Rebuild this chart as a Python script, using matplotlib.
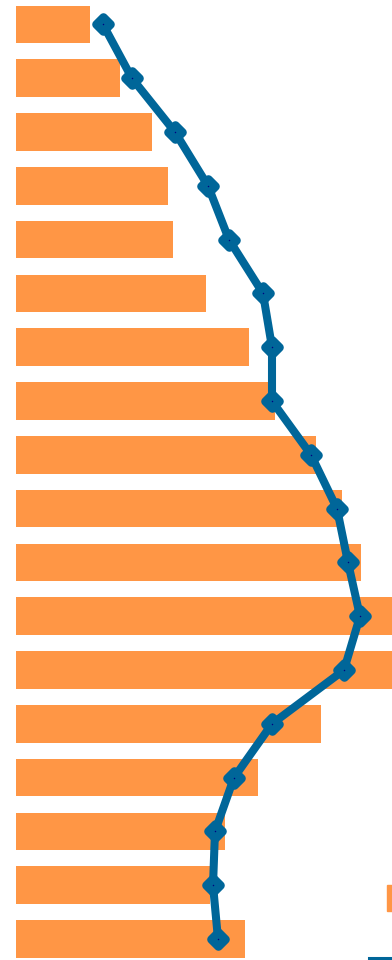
import matplotlib
matplotlib.use("Agg")
import matplotlib.pyplot as plt
from matplotlib.lines import Line2D
from matplotlib.markers import MarkerStyle
from matplotlib.patches import Patch

# values (arbitrary units, same scale for bars and line)
categories = list(range(1, 19))
bar_values = [74, 104, 136, 152, 157, 190, 233, 259, 300, 326, 345, 400, 400,
              305, 242, 209, 194, 229]
line_values = [87, 116, 159, 192, 213, 247, 256, 256, 295, 321, 332, 344, 328,
               256, 218, 199, 197, 202]

bar_color = "#FF9645"
line_color = "#006699"

fig = plt.figure(figsize=(3.92, 9.6), dpi=100)
# axes starts at the bars' left edge and runs to the right border
ax = fig.add_axes([16 / 392, 0, 376 / 392, 1])

ypos = list(range(len(categories)))
ax.barh(ypos, bar_values, height=0.7, color=bar_color, label="bars")
ax.plot(line_values, ypos, color=line_color, lw=5.8, solid_joinstyle="round",
        marker=MarkerStyle("D", joinstyle="round"), markersize=7.5,
        markeredgewidth=6.2, markerfacecolor="#000080",
        markeredgecolor=line_color, label="line")

ax.set_xlim(0, 376)
ax.set_ylim(17.39, -0.455)
ax.axis("off")

# legend sits mostly outside the picture, only its handles peek in
fig.legend(handles=[Patch(color=bar_color)], labels=["bars"],
           loc="upper left", bbox_to_anchor=(387 / 392, 1 - 885 / 960),
           frameon=False, borderpad=0, borderaxespad=0, fontsize=10,
           handleheight=2.45, handlelength=3)
fig.legend(handles=[Line2D([], [], color=line_color, lw=5.8)], labels=["line"],
           loc="center left", bbox_to_anchor=(372 / 392, 1 - 961.5 / 960),
           frameon=False, borderpad=0, borderaxespad=0, fontsize=10,
           handlelength=4)

fig.savefig("out.png", dpi=100)
